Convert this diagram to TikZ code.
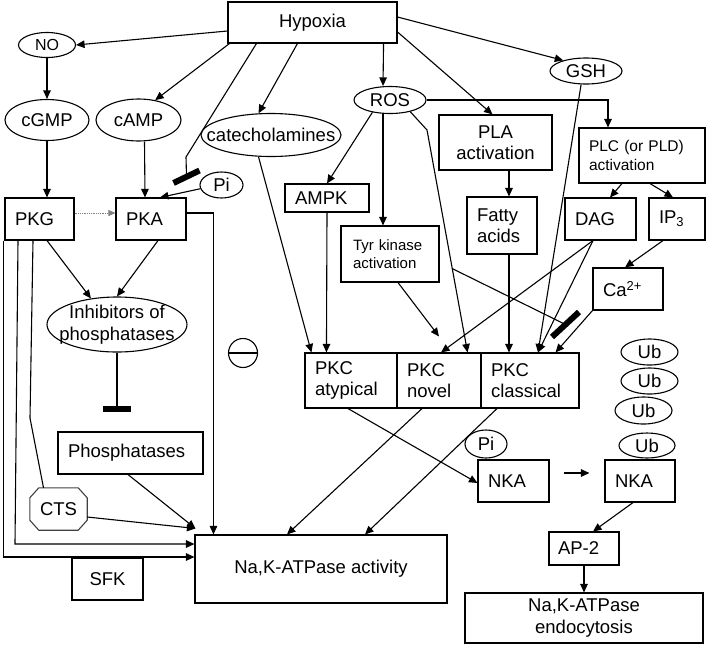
\documentclass[tikz,border=0pt]{standalone}
\usepackage{fontspec}
\setmainfont{Liberation Sans}
\usetikzlibrary{arrows.meta,shapes.geometric,calc}
\begin{document}
\begin{tikzpicture}[x=1pt,y=-1pt,
  every node/.style={font=\fontsize{18.5}{21.5}\selectfont},
  bx/.style={draw,line width=1.1pt,rectangle,inner xsep=10pt,inner ysep=0pt,align=left},
  cbx/.style={draw,line width=1.1pt,rectangle,inner sep=0pt,align=center},
  ell/.style={draw,line width=1.1pt,ellipse,inner xsep=-20pt,inner ysep=-10pt},
  arr/.style={line width=1.1pt,-{Triangle[length=8.5pt,width=7.5pt]}},
  ln/.style={line width=1.1pt},
  blk/.style={line width=6pt}]
\useasboundingbox (0,0) rectangle (708,646);

% ---------- nodes ----------
\node[cbx,minimum width=169pt,minimum height=41pt] (hyp) at (312.5,22.5) {Hypoxia};
\node[ell,minimum width=57pt,minimum height=25pt,font=\fontsize{16}{19}\selectfont] (no) at (47,45) {NO};
\node[ell,minimum width=84pt,minimum height=41pt] (cgmp) at (47,120) {cGMP};
\node[ell,minimum width=85pt,minimum height=42pt] (camp) at (138.5,120) {cAMP};
\node[ell,minimum width=140pt,minimum height=43pt] (cat) at (271,135) {catecholamines};
\node[ell,minimum width=43pt,minimum height=26pt] (pi1) at (221.5,185) {Pi};
\node[bx,minimum width=69pt,minimum height=42pt,text width=49pt] (pkg) at (39.5,219) {PKG};
\node[bx,minimum width=70pt,minimum height=42pt,text width=50pt] (pka) at (151,219) {PKA};
\node[ell,minimum width=140pt,minimum height=55pt,align=center] (inh) at (117,324.5) {Inhibitors of\\phosphatases};
\node[bx,minimum width=145pt,minimum height=42pt,text width=125pt] (phos) at (130.5,453) {Phosphatases};
\node[minimum width=57pt,minimum height=42pt,inner sep=0pt] (cts) at (58.5,509) {CTS};
\draw[line width=1.1pt,black!75] ($(cts.north west)+(9,0)$) -- ($(cts.north east)+(-9,0)$) -- ($(cts.north east)+(0,10)$) -- ($(cts.south east)+(0,-10)$) -- ($(cts.south east)+(-9,0)$) -- ($(cts.south west)+(9,0)$) -- ($(cts.south west)+(0,-10)$) -- ($(cts.north west)+(0,10)$) -- cycle;
\node[cbx,minimum width=71pt,minimum height=42pt] (sfk) at (107.5,579) {SFK};
\node[draw,circle,line width=1.1pt,minimum size=29pt,inner sep=0pt] (minus) at (243,353) {};
\draw[ln] (minus.west) -- (minus.east);
\node[cbx,minimum width=252pt,minimum height=68pt] (nkaact) at (321,569) {Na,K-ATPase activity};

\node[ell,minimum width=72pt,minimum height=27pt] (ros) at (390,100) {ROS};
\node[bx,minimum width=84pt,minimum height=28pt,text width=64pt] (ampk) at (327,198) {AMPK};
\node[bx,inner xsep=12pt,minimum width=98pt,minimum height=56pt,text width=74pt,font=\fontsize{15}{18}\selectfont] (tyr) at (390,254) {Tyr kinase\\activation};
\node[cbx,minimum width=113pt,minimum height=55pt] (pla) at (495.5,142.5) {PLA\\activation};
\node[bx,minimum width=70pt,minimum height=57pt,text width=50pt] (fatty) at (502,225.5) {Fatty\\acids};
\node[ell,minimum width=72pt,minimum height=26pt] (gsh) at (586,71) {GSH};
\node[bx,minimum width=126pt,minimum height=55pt,text width=106pt,font=\fontsize{15.5}{19}\selectfont] (plc) at (642,155.5) {PLC (or PLD)\\activation};
\node[bx,minimum width=71pt,minimum height=42pt,text width=51pt] (dag) at (600.5,219) {DAG};
\node[bx,minimum width=56pt,minimum height=42pt,text width=36pt] (ip3) at (677,219) {IP\textsubscript{3}};
\node[bx,minimum width=70pt,minimum height=42pt,text width=50pt] (ca) at (628,289) {Ca\textsuperscript{2+}};
\node[bx,minimum width=92pt,minimum height=55pt,text width=72pt] (pkca) at (351,380.5) {PKC\\atypical};
\node[bx,minimum width=84pt,minimum height=55pt,text width=64pt] (pkcn) at (439,380.5) {PKC\\novel};
\node[bx,minimum width=98pt,minimum height=55pt,text width=78pt] (pkcc) at (530,380.5) {PKC\\classical};
\node[ell,minimum width=57pt,minimum height=26pt] (ub1) at (649.5,352) {Ub};
\node[ell,minimum width=57pt,minimum height=26pt] (ub2) at (649.5,381) {Ub};
\node[ell,minimum width=57pt,minimum height=27pt] (ub3) at (643.5,410.5) {Ub};
\node[ell,minimum width=56pt,minimum height=25pt] (ub4) at (647,445.5) {Ub};
\node[ell,minimum width=42pt,minimum height=28pt] (pi2) at (486,444) {Pi};
\node[bx,minimum width=71pt,minimum height=42pt,text width=51pt] (nka1) at (513.5,481) {NKA};
\node[bx,minimum width=70pt,minimum height=42pt,text width=50pt] (nka2) at (640,481) {NKA};
\node[bx,inner xsep=9pt,minimum width=70pt,minimum height=33pt,text width=52pt] (ap2) at (584,548.5) {AP-2};
\node[cbx,minimum width=238pt,minimum height=50pt] (endo) at (584,618) {Na,K-ATPase\\endocytosis};

% ---------- connectors ----------
\draw[arr] ([yshift=-8.5pt]hyp.west) -- (no.east);
\draw[arr] ([xshift=2pt]hyp.south west) -- (camp.50);
\draw[arr] ([xshift=70pt]hyp.south west) -- (cat.120);
\coordinate (b1) at (186.5,176.5);
\draw[ln] ([xshift=29pt]hyp.south west) -- (186,157) -- (b1);
\draw[blk] ($(b1)+(-13,6.5)$) -- ($(b1)+(13,-6)$);
\draw[arr] ([xshift=-14pt]hyp.south east) -- ([xshift=-7pt]ros.north);
\draw[arr] ([yshift=-9.5pt]hyp.east) -- ([xshift=-3pt]pla.north);
\draw[arr] ([yshift=5.5pt]hyp.east) -- (gsh.155);

\draw[arr] (no.south) -- (cgmp.north);
\draw[arr] (cgmp.south) -- ([xshift=7.5pt]pkg.north);
\draw[arr] ([xshift=6pt]camp.south) -- ([xshift=-6pt]pka.north);
\draw[arr] (pi1.190) -- ([xshift=9pt]pka.north);
\draw[densely dotted,gray,line width=0.8pt,-{Triangle[length=7pt,width=6pt]}] ([yshift=6pt]pkg.east) -- ([yshift=6pt]pka.west);
\draw[arr] ([xshift=7.5pt]pkg.south) -- (inh.135);
\draw[arr] ([xshift=7pt]pka.south) -- (inh.north);
\coordinate (b2) at (117,409);
\draw[ln] (inh.south) -- (b2);
\draw[blk] ($(b2)+(-14,0)$) -- ($(b2)+(14,0)$);
\draw[arr] ([xshift=-2.5pt]phos.south) -- ([xshift=1pt,yshift=6pt]nkaact.north west);
\draw[arr] ([yshift=-8pt]cts.east) -- ([xshift=1pt,yshift=6pt]nkaact.north west);
\draw[ln] ([xshift=-6.5pt]pkg.south) -- (30,418) -- ([xshift=-15pt]cts.north);
\draw[arr] ([xshift=-21.5pt]pkg.south) -- (15,544) -- ([yshift=25pt]nkaact.west);
\draw[arr] ([xshift=-1pt]pkg.south west) |- ([yshift=12pt]nkaact.west);
\draw[arr] ([yshift=6pt]pka.east) -| ([xshift=19pt]nkaact.north west);

\draw[arr] (cat.240) -- ([xshift=7pt]pkca.north west);
\draw[arr] (ampk.south) -- ([xshift=22pt]pkca.north west);
\draw[arr] (ros.215) -- (ampk.north);
\draw[arr] ([xshift=-7pt]ros.south) -- ([xshift=-7pt]tyr.north);
\draw[arr] (ros.-30) -- (427,130) -- coordinate[pos=0.623] (br) ([xshift=-14pt]pkcn.north east);
\coordinate (b3) at (565.5,324.5);
\draw[ln] (br) -- (b3);
\draw[blk] ($(b3)+(-13.5,12.5)$) -- ($(b3)+(13.5,-12.5)$);
\draw[arr] ([xshift=8pt]tyr.south) -- ([yshift=16pt]pkcn.north);
\draw[arr] ([xshift=13.5pt]pla.south) -- ([xshift=7pt]fatty.north);
\draw[arr] ([xshift=7pt]fatty.south) -- ([xshift=-21pt]pkcc.north);
\draw[arr] (ros.east) -| ([xshift=-34pt]plc.north);
\draw[arr] ([xshift=-20pt]plc.south) -- ([xshift=9.5pt]dag.north);
\draw[arr] ([xshift=8pt]plc.south) -- ([xshift=-4pt]ip3.north);
\draw[arr] ([xshift=-7.5pt]dag.south) -- ([xshift=2pt]pkcn.north);
\draw[arr] ([xshift=-7.5pt]dag.south) -- ([xshift=8pt]pkcc.north);
\draw[arr] (gsh.-110) -- ([xshift=8pt]pkcc.north);
\draw[arr] ([xshift=-14pt]ip3.south) -- ([xshift=-3pt]ca.north);
\draw[arr] (ca.south west) -- ([xshift=-24pt]pkcc.north east);

\draw[arr] ([xshift=-3pt]pkca.south) -- ([yshift=-2pt]nka1.west);
\draw[arr] ([xshift=-17pt]pkcn.south) -- ([xshift=-34pt]nkaact.north);
\draw[arr] ([xshift=-33pt]pkcc.south) -- ([xshift=44pt]nkaact.north);
\draw[arr] ([xshift=14pt,yshift=8pt]nka1.east) -- ([xshift=-15pt,yshift=8pt]nka2.west);
\draw[arr] ([xshift=-7pt]nka2.south) -- ([xshift=9pt]ap2.north);
\draw[arr] (ap2.south) -- (endo.north);
\end{tikzpicture}
\end{document}
